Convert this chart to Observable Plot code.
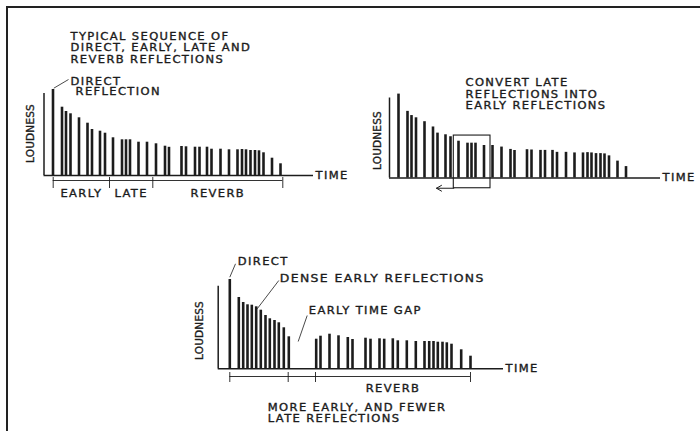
<!DOCTYPE html>
<html>
<head>
<meta charset="utf-8">
<script src="https://cdn.jsdelivr.net/npm/d3@7"></script>
<script src="https://cdn.jsdelivr.net/npm/@observablehq/plot@0.6"></script>
<style>
  html, body { margin: 0; padding: 0; background: #fff; }
  #chart { position: relative; width: 700px; height: 431px; overflow: hidden; background: #fff; }
  #frame { position: absolute; left: 6px; top: 6px; width: 720px; height: 450px;
           border-top: 2.5px solid #222; border-left: 2.5px solid #222; }
  #chart svg { position: absolute; left: 0; top: 0; overflow: visible; }
</style>
</head>
<body>
<div id="chart"><div id="frame"></div></div>
<script>
// ---- data (time in ms-like units, loudness in arbitrary units) ----
const typicalTime = [9, 18, 22, 26.5, 35, 43.5, 48, 56, 61, 69, 78, 82, 86, 94.5, 103, 112, 121, 125, 137.5, 142, 151, 155.5, 163, 167.5, 176.5, 185, 193.5, 198, 202, 206.5, 211, 215, 219.5, 228, 236.5];
const typicalLoud = [86, 68.3, 64, 61.7, 57.7, 52.3, 46, 44.3, 42.3, 37.7, 35.7, 35.7, 35.7, 33.3, 33.3, 31.7, 29.3, 28.2, 29, 28.7, 28.3, 28.3, 28.3, 26.3, 26.3, 25.7, 25.7, 26, 25.7, 25, 25, 24.7, 22.7, 17.3, 11.7];

const denseTime = [11.6, 20.6, 25, 29.3, 33.6, 38, 42.6, 47.3, 51.6, 56.3, 60.6, 65.6, 70.6, 98, 102.3, 111.3, 120.3, 129.6, 134.3, 147.3, 152.3, 161.3, 166, 174.6, 179.6, 188.6, 197.6, 206.3, 211, 215.3, 219.6, 224.3, 228.6, 233.3, 243, 252.3];
const denseLoud = [89.3, 71.3, 66.3, 64, 63.6, 62, 58.6, 53.3, 50, 48.3, 46, 41, 32, 29.6, 32.6, 34.6, 33, 31.3, 29.3, 30.6, 29.6, 30, 29.6, 30, 28, 28, 27.3, 27.3, 27.3, 27.3, 26.6, 26.6, 26, 24.6, 19, 12.6];

const typicalSegments = ["EARLY", "LATE", "REVERB"];
const typicalBounds = [9.2, 65.5, 108.8, 238.8];
const denseSegments = ["", "", "REVERB"];
const denseBounds = [11.6, 70, 97.3, 252.3];

const title1 = "TYPICAL SEQUENCE OF\nDIRECT, EARLY, LATE AND\nREVERB REFLECTIONS";
const title2 = "CONVERT LATE\nREFLECTIONS INTO\nEARLY REFLECTIONS";
const caption3 = "MORE EARLY, AND FEWER\nLATE REFLECTIONS";
const directNote = "DIRECT\n REFLECTION";
const xLabel = "TIME";
const yLabel = "LOUDNESS";

// ---- tables ----
const typical = typicalTime.map((t, i) => ({t, l: typicalLoud[i]}));
const dense = denseTime.map((t, i) => ({t, l: denseLoud[i]}));
const segs = (names, b) => names.map((name, i) => ({name, mid: (b[i] + b[i + 1]) / 2})).filter(d => d.name);

const ink = "#1c1c1c";
const font = {fontFamily: "'DejaVu Sans', sans-serif", fontSize: "10px", letterSpacing: "1.2px", background: "transparent", color: ink, overflow: "visible"};
const txt = {fill: ink, stroke: ink, strokeWidth: 0.35};

function base(xd, xr, yd, yr, marks) {
  return Plot.plot({
    width: 700, height: 431,
    marginTop: 0, marginRight: 0, marginBottom: 0, marginLeft: 0,
    x: {domain: xd, range: xr, axis: null},
    y: {domain: yd, range: yr, axis: null},
    style: font,
    marks
  });
}

function axesMarks(xMax, yMax, labelX, labelY) {
  return [
    Plot.ruleY([0], {x1: 0, x2: xMax, stroke: ink, strokeWidth: 1.5}),
    Plot.ruleX([0], {y1: 0, y2: yMax, stroke: ink, strokeWidth: 1.5}),
    Plot.text([xLabel], {x: xMax, y: 0, dx: 2, text: d => d, textAnchor: "start", lineAnchor: "middle", ...txt}),
    Plot.text([yLabel], {x: labelX, y: labelY, text: d => d, rotate: -90, lineAnchor: "middle", fontSize: 10.5, ...txt})
  ];
}

function bracketMarks(bounds, names, yLine, yTop, yBot, yLabelTop) {
  return [
    Plot.ruleY([yLine], {x1: bounds[0], x2: bounds[bounds.length - 1], stroke: ink, strokeWidth: 0.9}),
    Plot.ruleX(bounds, {y1: yTop, y2: yBot, stroke: ink, strokeWidth: 0.9}),
    Plot.text(segs(names, bounds), {x: "mid", y: yLabelTop, text: "name", lineAnchor: "top", ...txt})
  ];
}

const chart = document.getElementById("chart");

// Panel 1: typical sequence
const p1 = base([0, 269.5], [43.5, 313], [0, 82], [175, 93], [
  ...axesMarks(269.5, 82, -13.5, 42),
  Plot.ruleX(typical, {x: "t", y1: 0, y2: "l", stroke: ink, strokeWidth: 2.6}),
  ...bracketMarks(typicalBounds, typicalSegments, -5, -2, -13, -14),
  Plot.text([title1], {x: 26.5, y: 144.3, text: d => d, textAnchor: "start", lineAnchor: "top", lineHeight: 1.17, ...txt}),
  Plot.text([directNote], {x: 26.5, y: 98.5, text: d => d, textAnchor: "start", lineAnchor: "top", lineHeight: 1.08, ...txt}),
  Plot.link([0], {x1: 9.8, y1: 87.3, x2: 24.5, y2: 96, stroke: ink, strokeWidth: 0.8})
]);

// Panel 2: convert late into early
const p2 = base([0, 271], [389, 660], [0, 82], [177.5, 97.5], [
  ...axesMarks(271, 82, -12.3, 38.4),
  Plot.ruleX(typical, {x: "t", y1: 0, y2: "l", stroke: ink, strokeWidth: 2.6}),
  Plot.rect([0], {x1: 64.3, x2: 101, y1: -10.5, y2: 43.5, fill: "none", stroke: ink, strokeWidth: 1.1}),
  Plot.arrow([0], {x1: 64.3, y1: -10.5, x2: 47, y2: -10.5, stroke: ink, strokeWidth: 1, headLength: 9}),
  Plot.text([title2], {x: 76, y: 102.3, text: d => d, textAnchor: "start", lineAnchor: "top", lineHeight: 1.13, ...txt})
]);

// Panel 3: dense early reflections
const p3 = base([0, 285.3], [217.7, 503], [0, 82.6], [368.3, 285.7], [
  ...axesMarks(285.3, 82.6, -18.4, 38.3),
  Plot.ruleX(dense, {x: "t", y1: 0, y2: "l", stroke: ink, strokeWidth: 2.6}),
  ...bracketMarks(denseBounds, denseSegments, -7.7, -3.7, -13.7, -16),
  Plot.text(["DIRECT"], {x: 19.6, y: 111, text: d => d, textAnchor: "start", lineAnchor: "top", ...txt}),
  Plot.text(["DENSE EARLY REFLECTIONS"], {x: 61.6, y: 94.3, text: d => d, textAnchor: "start", lineAnchor: "top", fontSize: 10.8, ...txt}),
  Plot.text(["EARLY TIME GAP"], {x: 90.6, y: 62.3, text: d => d, textAnchor: "start", lineAnchor: "top", ...txt}),
  Plot.text([caption3], {x: 49.6, y: -35, text: d => d, textAnchor: "start", lineAnchor: "top", lineHeight: 1.08, ...txt}),
  Plot.link([0], {x1: 11.6, y1: 91.6, x2: 17.3, y2: 105, stroke: ink, strokeWidth: 0.8}),
  Plot.link([0], {x1: 39, y1: 60, x2: 60.6, y2: 88.3, stroke: ink, strokeWidth: 0.8}),
  Plot.link([0], {x1: 80, y1: 27.3, x2: 89, y2: 53.3, stroke: ink, strokeWidth: 0.8})
]);

for (const p of [p1, p2, p3]) {
  d3.select(p).selectAll("text").each(function() {
    if (this.textContent === yLabel) {
      this.style.letterSpacing = "0.2px";
    } else {
      const t = this.getAttribute("transform") || "";
      this.setAttribute("transform", t + " scale(1.15,1)");
    }
  });
  chart.appendChild(p);
}
</script>
</body>
</html>
